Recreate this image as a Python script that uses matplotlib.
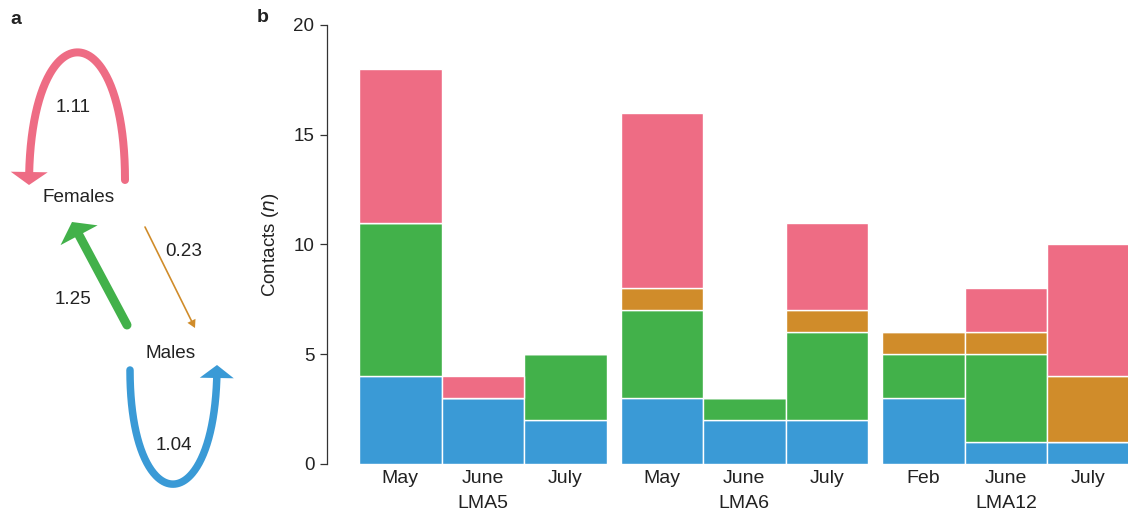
import numpy as np
import matplotlib
matplotlib.use("Agg")
import matplotlib.pyplot as plt
from matplotlib.patches import Polygon

plt.rcParams["font.family"] = ["Liberation Sans", "DejaVu Sans"]

# ---- data -------------------------------------------------------------
groups = ["LMA5", "LMA6", "LMA12"]
months = ["May", "June", "July", "May", "June", "July", "Feb", "June", "July"]
group_of_bar = [0, 0, 0, 1, 1, 1, 2, 2, 2]

male_male = [4, 3, 2, 3, 2, 2, 3, 1, 1]
male_female = [7, 0, 3, 4, 1, 4, 2, 4, 0]
female_male = [0, 0, 0, 1, 0, 1, 1, 1, 3]
female_female = [7, 1, 0, 8, 0, 4, 0, 2, 6]

# contact rates between the sexes (network in panel a)
rate_ff = 1.11
rate_mf = 1.25
rate_fm = 0.23
rate_mm = 1.04

# ---- styles -----------------------------------------------------------
C_BLUE = "#3a9ad6"
C_GREEN = "#42b14a"
C_ORANGE = "#d08c2a"
C_PINK = "#ee6c84"
TXT = "#222222"

W, H = 1128, 514
DPI = 100
fig = plt.figure(figsize=(W / DPI, H / DPI), dpi=DPI)

# ---- panel a: contact network (pixel-space overlay) -------------------
net = fig.add_axes([0, 0, 1, 1])
net.set_xlim(0, W)
net.set_ylim(H, 0)
net.axis("off")

PX_PER_RATE = 7.2  # stroke width in pixels per unit rate


def bezier(p0, p1, p2, p3, n=200):
    t = np.linspace(0, 1, n)[:, None]
    p0, p1, p2, p3 = (np.asarray(p, float) for p in (p0, p1, p2, p3))
    return ((1 - t) ** 3) * p0 + 3 * ((1 - t) ** 2) * t * p1 \
        + 3 * (1 - t) * t ** 2 * p2 + t ** 3 * p3


def arrow_along(pts, rate, color, head_len, head_half):
    pts = np.asarray(pts, float)
    tip = pts[-1]
    dist = np.hypot(*(pts - tip).T)
    d = tip - pts[dist > head_len][-1]
    d /= np.hypot(*d)
    base = tip - d * head_len
    body = np.vstack([pts[dist > head_len], base])
    lw_pt = rate * PX_PER_RATE * 72 / DPI
    net.plot(body[:, 0], body[:, 1], color=color, lw=lw_pt,
             solid_capstyle="round", zorder=2)
    perp = np.array([-d[1], d[0]])
    head = [tip, base + perp * head_half, base - perp * head_half]
    net.add_patch(Polygon(head, closed=True, facecolor=color,
                          edgecolor="none", zorder=3))


# female -> female loop
arrow_along(bezier((125, 180), (125, 9), (29, 9), (29, 185)),
            rate_ff, C_PINK, 13, 18.5)
# male -> female
arrow_along(np.linspace((127, 325), (72, 222), 50),
            rate_mf, C_GREEN, 15, 21)
# female -> male
arrow_along(np.linspace((145, 227), (195, 328), 50),
            rate_fm, C_ORANGE, 8, 4.5)
# male -> male loop
arrow_along(bezier((130, 370), (130, 523), (217, 523), (217, 365)),
            rate_mm, C_BLUE, 13, 17)

lab = dict(ha="center", va="center", fontsize=13.6, color=TXT)
net.text(73, 108, f"{rate_ff:.2f}", **lab)
net.text(79, 198, "Females", **lab)
net.text(184, 252, f"{rate_fm:.2f}", **lab)
net.text(73, 300, f"{rate_mf:.2f}", **lab)
net.text(171, 354, "Males", **lab)
net.text(174, 445, f"{rate_mm:.2f}", **lab)

fig.text(16 / W, 1 - 20 / H, "a", fontsize=14, fontweight="bold",
         ha="center", va="center", color=TXT)
fig.text(263 / W, 1 - 17 / H, "b", fontsize=14, fontweight="bold",
         ha="center", va="center", color=TXT)

# ---- panel b: stacked bars --------------------------------------------
ax = fig.add_axes([327 / W, 50 / H, 801 / W, 439 / H])
group_step = 3.17
x = np.array([g * group_step + i % 3 for i, g in enumerate(group_of_bar)])

bottom = np.zeros(len(months))
for vals, col in [(male_male, C_BLUE), (male_female, C_GREEN),
                  (female_male, C_ORANGE), (female_female, C_PINK)]:
    vals = np.asarray(vals, float)
    ax.bar(x, vals, width=1.0, bottom=bottom, color=col,
           edgecolor="white", linewidth=1.0, zorder=2)
    bottom += vals

ax.set_xlim(-0.888, 8.821)
ax.set_ylim(0, 20)
ax.set_yticks([0, 5, 10, 15, 20])
ax.set_xticks(x)
ax.set_xticklabels(months)
ax.tick_params(axis="x", length=0, pad=4, labelsize=14, labelcolor=TXT)
ax.tick_params(axis="y", length=5, width=0.9, pad=4, labelsize=13.5,
               labelcolor=TXT, color="#333333")
for s in ("top", "right", "bottom"):
    ax.spines[s].set_visible(False)
ax.spines["left"].set_linewidth(0.9)
ax.spines["left"].set_color("#333333")
ax.set_ylabel("Contacts ($\\it{n}$)", fontsize=13.5, color=TXT, labelpad=9)

for g, name in enumerate(groups):
    ax.text(g * group_step + 1, -0.09, name, transform=ax.get_xaxis_transform(),
            ha="center", va="center", fontsize=14, color=TXT)

fig.savefig("out.png", dpi=DPI)
